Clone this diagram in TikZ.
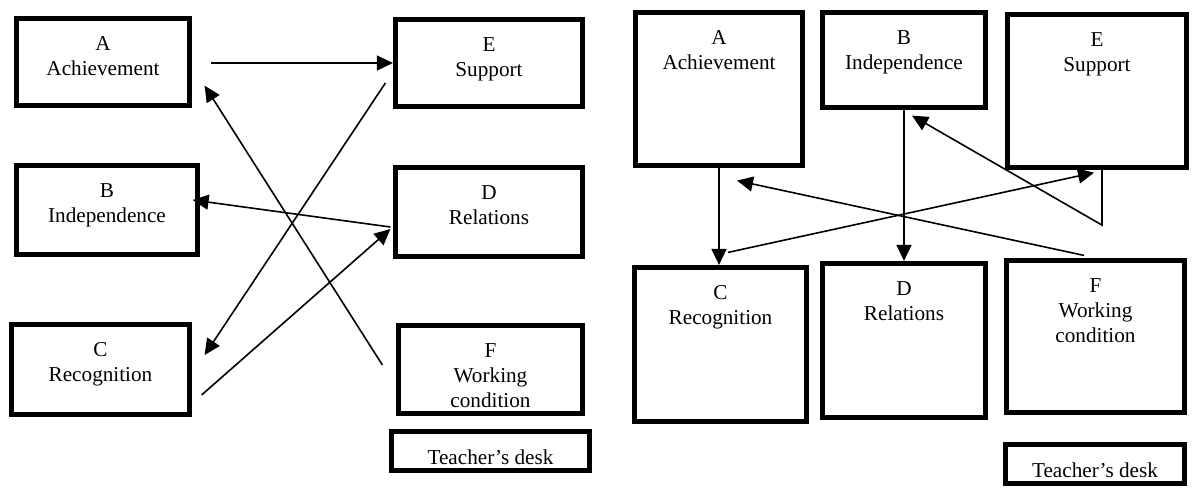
\documentclass[tikz,border=0pt]{standalone}
\usepackage{fontspec}
\setmainfont{Liberation Serif}
\usetikzlibrary{positioning,arrows.meta}
\tikzset{box/.style={rectangle,draw,line width=2.6pt,inner sep=0pt},
  txt/.style={align=center,inner sep=0pt,font=\fontsize{10.6}{12.5}\selectfont},
  link/.style={->,line width=0.8pt}}

\begin{document}
\begin{tikzpicture}[x=0.5pt,y=-0.5pt,>={Triangle[length=8pt,width=7.5pt]},node distance=10pt]
        \useasboundingbox (0,0) rectangle (1197,488);
        % first seating plan
        \node[box,minimum width=86.5pt,minimum height=43.5pt] (lA) at (103,62) {};
        \node[box,minimum width=93.5pt,minimum height=43.5pt] (lE) at (489,63) {};
        \node[box,minimum width=90.5pt,minimum height=44.5pt] (lB) at (107,210) {};
        \node[box,minimum width=93.5pt,minimum height=44.5pt] (lD) at (489,212) {};
        \node[box,minimum width=89pt,minimum height=45pt] (lC) at (100.5,369.5) {};
        \node[box,minimum width=92pt,minimum height=44pt] (lF) at (490.5,369.5) {};
        \node[box,minimum width=99pt,minimum height=19.5pt] (lT) at (490.5,451) {};

        \node[txt,below=of lA.north] (lAt) {A\\Achievement};
        \node[txt,below=of lE.north] (lEt) {E\\Support};
        \node[txt,below=of lB.north] (lBt) {B\\Independence};
        \node[txt,below=of lD.north] (lDt) {D\\Relations};
        \node[txt,below=of lC.north] (lCt) {C\\Recognition};
        \node[txt,below=of lF.north] (lFt) {F\\Working\\condition};
        \node[txt,below=of lT.north] (lTt) {Teacher's desk};

        \draw [link] ([xshift=9.25pt,yshift=-0.5pt]lA.east) -- (lE.west);
        \draw [link] ([xshift=-6.75pt,yshift=2.25pt]lF.west) -- ([xshift=6.25pt,yshift=11.25pt]lA.south east);
        \draw [link] ([xshift=-3.75pt,yshift=-10pt]lE.west) -- ([xshift=6.25pt,yshift=7.25pt]lC.east);
        \draw [link] ([xshift=-1.25pt,yshift=-7.5pt]lD.west) -- ([xshift=-3.75pt,yshift=5pt]lB.east);
        \draw [link] ([xshift=4.75pt,yshift=-12.75pt]lC.east) -- ([xshift=-1.25pt,yshift=-8.5pt]lD.west);

        % second seating plan
        \node[box,minimum width=83.5pt,minimum height=76.5pt] (rA) at (719,89) {};
        \node[box,minimum width=81.5pt,minimum height=47.5pt] (rB) at (904,60) {};
        \node[box,minimum width=89.5pt,minimum height=76.5pt] (rE) at (1097,91) {};
        \node[box,minimum width=86pt,minimum height=77pt] (rC) at (720.5,344.5) {};
        \node[box,minimum width=81.5pt,minimum height=77pt] (rD) at (904,340.5) {};
        \node[box,minimum width=89pt,minimum height=76pt] (rF) at (1095.5,336.5) {};
        \node[box,minimum width=89.5pt,minimum height=19.5pt] (rT) at (1095,464) {};

        \node[txt,below=of rA.north] (rAt) {A\\Achievement};
        \node[txt,below=of rB.north] (rBt) {B\\Independence};
        \node[txt,below=of rE.north] (rEt) {E\\Support};
        \node[txt,below=of rC.north] (rCt) {C\\Recognition};
        \node[txt,below=of rD.north] (rDt) {D\\Relations};
        \node[txt,below=of rF.north] (rFt) {F\\Working\\condition};
        \node[txt,below=of rT.north] (rTt) {Teacher's desk};

        \draw [link] (rA.south) -- (rA.south |- rC.north);
        \draw [link] (rB.south) -- (rB.south |- rD.north);
        \draw [link] ([xshift=-5.75pt,yshift=1.25pt]rF.north) -- ([xshift=9pt,yshift=-6.25pt]rA.south);
        \draw [link] ([xshift=3.75pt,yshift=6.25pt]rC.north) -- ([xshift=-1.5pt,yshift=-1.25pt]rE.south);
        \draw [link] ([xshift=2.5pt]rE.south) -- ++(0,55) -- ([xshift=4pt,yshift=-2.75pt]rB.south);
    \end{tikzpicture}
\end{document}
